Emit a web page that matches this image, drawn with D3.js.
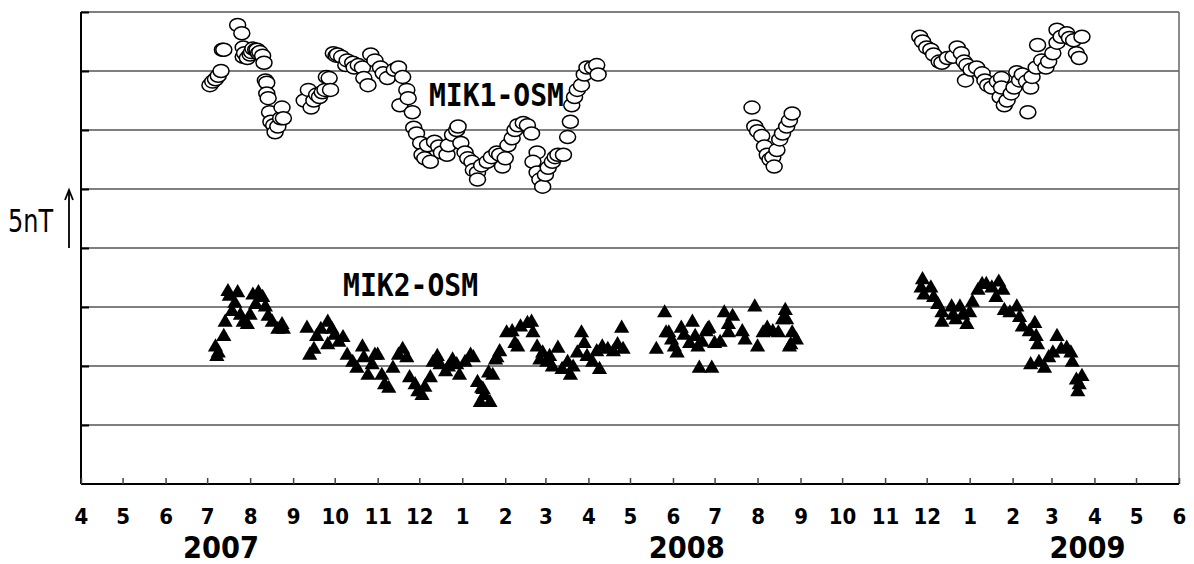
<!DOCTYPE html>
<html>
<head>
<meta charset="utf-8">
<script src="https://cdn.jsdelivr.net/npm/d3@7"></script>
<style>
  body { margin: 0; background: #fff; }
  svg { display: block; }
</style>
</head>
<body>
<div id="chart"></div>
<script>
const margin = {top: 12, right: 15, bottom: 80, left: 81},
    width = 1194 - margin.left - margin.right,
    height = 564 - margin.top - margin.bottom;

// MIK1-OSM differences (nT, arbitrary offset)
const mik1 = [
  ["2007-07-03",33.8],["2007-07-05",34.1],["2007-07-07",34.3],["2007-07-09",34.6],["2007-07-11",35.0],
  ["2007-07-12",36.8],["2007-07-13",36.8],["2007-07-23",38.9],["2007-07-26",38.2],["2007-07-27",37.0],
  ["2007-07-27",36.2],["2007-07-28",36.5],["2007-07-30",36.1],["2007-08-01",36.4],["2007-08-02",36.6],
  ["2007-08-03",36.9],["2007-08-05",36.8],["2007-08-06",36.8],["2007-08-07",36.5],["2007-08-08",36.6],
  ["2007-08-10",36.3],["2007-08-11",35.7],["2007-08-12",34.2],["2007-08-13",34.0],["2007-08-13",33.1],
  ["2007-08-14",32.7],["2007-08-15",31.5],["2007-08-16",30.7],["2007-08-18",30.4],["2007-08-19",29.8],
  ["2007-08-21",30.3],["2007-08-23",31.0],["2007-08-24",31.9],["2007-08-25",31.0],
  ["2007-09-09",32.5],["2007-09-12",33.4],["2007-09-14",31.9],["2007-09-16",32.5],["2007-09-18",33.0],
  ["2007-09-20",32.8],["2007-09-22",33.2],["2007-09-24",33.4],["2007-09-25",34.5],["2007-09-27",34.4],
  ["2007-09-28",33.4],["2007-09-30",36.5],["2007-10-02",36.3],["2007-10-03",36.4],["2007-10-06",36.2],
  ["2007-10-09",35.5],["2007-10-10",35.9],["2007-10-14",35.7],["2007-10-15",35.3],["2007-10-18",35.5],
  ["2007-10-21",35.3],["2007-10-22",34.4],["2007-10-25",33.8],["2007-10-27",36.4],["2007-10-30",35.9],
  ["2007-11-03",35.3],["2007-11-05",34.8],["2007-11-08",34.4],["2007-11-13",35.1],["2007-11-16",35.3],
  ["2007-11-17",32.1],["2007-11-19",34.5],["2007-11-22",33.4],["2007-11-23",32.7],["2007-11-26",31.5],
  ["2007-11-27",30.2],["2007-11-29",29.7],["2007-12-02",28.9],["2007-12-03",27.9],["2007-12-05",27.6],
  ["2007-12-07",28.7],["2007-12-09",27.3],["2007-12-12",29.0],["2007-12-15",28.6],["2007-12-17",28.1],
  ["2007-12-21",27.9],["2007-12-22",28.7],["2007-12-25",29.6],["2007-12-28",30.0],["2007-12-29",30.3],
  ["2007-12-31",28.9],["2008-01-03",28.1],["2008-01-05",27.6],["2008-01-08",27.3],["2008-01-09",26.6],
  ["2008-01-12",26.4],["2008-01-12",25.8],["2008-01-15",27.0],["2008-01-19",27.3],["2008-01-22",27.7],
  ["2008-01-26",28.1],["2008-01-28",27.9],["2008-01-30",26.9],["2008-02-01",27.6],["2008-02-03",28.7],
  ["2008-02-06",29.3],["2008-02-08",30.0],["2008-02-10",30.4],["2008-02-14",30.6],["2008-02-17",30.4],
  ["2008-02-20",29.7],["2008-02-24",28.1],["2008-02-21",27.3],["2008-02-24",26.4],["2008-02-26",25.8],
  ["2008-02-28",25.2],["2008-03-01",26.2],["2008-03-03",26.8],["2008-03-06",27.3],["2008-03-08",27.7],
  ["2008-03-10",27.9],["2008-03-14",27.9],["2008-03-17",29.4],["2008-03-19",30.7],["2008-03-20",32.1],
  ["2008-03-22",32.8],["2008-03-24",33.4],["2008-03-27",33.8],["2008-03-29",34.7],["2008-03-31",35.3],
  ["2008-04-04",35.3],["2008-04-07",35.5],["2008-04-08",34.7],
  ["2008-07-28",31.9],["2008-07-30",30.3],["2008-08-01",29.9],["2008-08-04",29.5],["2008-08-06",28.6],
  ["2008-08-08",27.9],["2008-08-10",27.5],["2008-08-12",27.7],["2008-08-13",26.9],["2008-08-15",28.3],
  ["2008-08-17",29.2],["2008-08-19",29.7],["2008-08-22",30.3],["2008-08-24",30.8],["2008-08-26",31.4],
  ["2008-11-26",37.9],["2008-11-28",37.5],["2008-12-01",37.0],["2008-12-04",36.8],["2008-12-06",36.4],
  ["2008-12-10",35.8],["2008-12-12",35.7],["2008-12-16",36.1],["2008-12-20",36.2],["2008-12-23",37.0],
  ["2008-12-26",36.5],["2008-12-28",35.8],["2008-12-29",34.2],["2008-12-30",35.5],["2009-01-02",35.1],
  ["2009-01-06",35.3],["2009-01-10",34.8],["2009-01-12",34.2],["2009-01-14",33.8],["2009-01-17",33.6],
  ["2009-01-21",34.1],["2009-01-23",32.8],["2009-01-24",34.4],["2009-01-24",33.6],["2009-01-26",32.1],
  ["2009-01-28",32.5],["2009-01-31",33.1],["2009-02-02",33.6],["2009-02-04",34.9],["2009-02-06",34.2],
  ["2009-02-08",34.7],["2009-02-11",34.1],["2009-02-12",31.5],["2009-02-14",33.6],["2009-02-15",34.5],
  ["2009-02-18",35.3],["2009-02-19",37.2],["2009-02-22",35.9],["2009-02-25",35.3],["2009-02-27",35.8],
  ["2009-03-02",36.5],["2009-03-05",38.5],["2009-03-05",37.4],["2009-03-08",37.9],["2009-03-12",38.2],
  ["2009-03-14",37.8],["2009-03-17",37.6],["2009-03-19",36.5],["2009-03-21",36.1],["2009-03-23",37.9]
];

// MIK2-OSM differences
const mik2 = [
  ["2007-07-07",11.6],["2007-07-08",10.8],["2007-07-09",11.1],["2007-07-13",12.5],["2007-07-14",13.7],
  ["2007-07-16",16.3],["2007-07-17",15.9],["2007-07-19",14.6],["2007-07-21",15.3],["2007-07-23",16.2],
  ["2007-07-25",14.3],["2007-07-27",13.7],["2007-07-30",13.5],["2007-08-01",14.3],["2007-08-03",16.0],
  ["2007-08-05",15.2],["2007-08-07",16.2],["2007-08-10",15.8],["2007-08-12",15.0],["2007-08-14",14.2],
  ["2007-08-17",13.7],["2007-08-21",13.1],["2007-08-24",13.5],["2007-08-25",13.1],
  ["2007-09-11",13.2],["2007-09-13",10.9],["2007-09-16",11.4],["2007-09-18",12.5],["2007-09-21",13.1],
  ["2007-09-26",13.7],["2007-09-26",11.8],["2007-09-29",13.1],["2007-10-01",12.6],["2007-10-04",12.0],
  ["2007-10-07",12.4],["2007-10-10",10.9],["2007-10-14",10.3],["2007-10-17",9.8],["2007-10-21",11.6],
  ["2007-10-22",10.7],["2007-10-25",9.2],["2007-10-28",10.1],["2007-10-30",10.9],["2007-11-01",10.9],
  ["2007-11-04",9.2],["2007-11-06",8.4],["2007-11-09",8.1],["2007-11-12",9.8],["2007-11-16",10.9],
  ["2007-11-19",11.4],["2007-11-22",10.7],["2007-11-24",9.0],["2007-11-28",8.4],["2007-11-30",7.8],
  ["2007-12-03",7.5],["2007-12-05",8.2],["2007-12-09",9.0],["2007-12-11",10.3],["2007-12-14",10.8],
  ["2007-12-16",10.1],["2007-12-20",9.5],["2007-12-22",9.9],["2007-12-25",10.5],["2007-12-28",10.1],
  ["2007-12-30",9.2],["2008-01-03",10.3],["2008-01-07",10.9],["2008-01-09",10.7],["2008-01-12",8.6],
  ["2008-01-14",6.9],["2008-01-15",8.1],["2008-01-16",8.0],["2008-01-17",7.5],["2008-01-20",9.4],
  ["2008-01-21",6.9],["2008-01-23",9.2],["2008-01-25",10.5],["2008-01-26",10.7],["2008-01-28",11.2],
  ["2008-02-02",12.8],["2008-02-06",12.9],["2008-02-08",11.9],["2008-02-10",11.6],["2008-02-12",13.3],
  ["2008-02-17",13.6],["2008-02-20",13.7],["2008-02-21",12.8],["2008-02-24",11.6],["2008-02-26",10.5],
  ["2008-02-28",11.1],["2008-03-02",10.3],["2008-03-04",10.8],["2008-03-06",9.9],["2008-03-10",11.5],
  ["2008-03-13",9.7],["2008-03-17",10.3],["2008-03-19",9.2],["2008-03-21",9.9],["2008-03-24",11.1],
  ["2008-03-27",12.8],["2008-03-29",11.9],["2008-03-31",10.8],["2008-04-04",10.3],["2008-04-07",11.2],
  ["2008-04-09",9.7],["2008-04-11",11.6],["2008-04-15",11.4],["2008-04-19",11.2],["2008-04-22",11.8],
  ["2008-04-25",13.2],["2008-04-26",11.4],
  ["2008-05-20",11.4],["2008-05-26",14.5],["2008-05-27",12.8],["2008-05-29",12.8],["2008-05-31",12.2],
  ["2008-06-02",11.6],["2008-06-04",11.1],["2008-06-07",13.2],["2008-06-09",12.6],["2008-06-13",11.9],
  ["2008-06-15",13.7],["2008-06-17",12.5],["2008-06-19",11.6],["2008-06-20",9.8],["2008-06-22",12.0],
  ["2008-06-25",12.9],["2008-06-26",13.1],["2008-06-27",13.2],["2008-06-29",9.8],["2008-07-01",11.9],
  ["2008-07-05",12.0],["2008-07-08",14.5],["2008-07-11",13.5],["2008-07-11",12.8],["2008-07-14",14.2],
  ["2008-07-21",12.9],["2008-07-23",12.2],["2008-07-30",15.0],["2008-08-01",11.6],["2008-08-05",12.8],
  ["2008-08-08",13.2],["2008-08-12",12.9],["2008-08-16",12.8],["2008-08-19",13.9],["2008-08-21",14.7],
  ["2008-08-22",13.9],["2008-08-24",11.6],["2008-08-25",11.8],["2008-08-26",12.8],["2008-08-29",12.2],
  ["2008-11-27",16.6],["2008-11-28",17.3],["2008-11-29",16.0],["2008-12-04",16.6],["2008-12-06",15.8],
  ["2008-12-09",15.2],["2008-12-12",14.5],["2008-12-12",13.7],["2008-12-19",15.0],["2008-12-20",14.3],
  ["2008-12-22",13.9],["2008-12-25",15.0],["2008-12-27",14.3],["2008-12-30",13.5],["2009-01-01",14.5],
  ["2009-01-03",15.4],["2009-01-07",16.4],["2009-01-10",16.9],["2009-01-13",16.9],["2009-01-17",16.6],
  ["2009-01-20",15.8],["2009-01-22",17.1],["2009-01-25",16.4],["2009-01-26",14.7],["2009-01-30",14.5],
  ["2009-02-04",15.0],["2009-02-06",14.1],["2009-02-08",13.3],["2009-02-13",12.9],["2009-02-14",10.1],
  ["2009-02-17",13.6],["2009-02-18",12.5],["2009-02-19",11.8],["2009-02-20",10.3],["2009-02-24",9.8],
  ["2009-02-27",10.7],["2009-03-02",11.1],["2009-03-05",12.5],["2009-03-08",11.4],["2009-03-12",11.5],
  ["2009-03-15",11.1],["2009-03-16",10.3],["2009-03-19",8.8],["2009-03-20",7.8],["2009-03-21",8.4],
  ["2009-03-23",9.1]
];

const yTicks = [5, 10, 15, 20, 25, 30, 35, 40];
const years = ["2007", "2008", "2009"];
const yearDates = ["2007-07-11", "2008-06-11", "2009-03-27"];
const seriesLabels = ["MIK1-OSM", "MIK2-OSM"];
const seriesLabelAt = [["2007-12-08", 32], ["2007-10-07", 15.9]];

const parse = d3.timeParse("%Y-%m-%d");
const narrow = "'Liberation Sans Narrow', 'DejaVu Sans Condensed', sans-serif";

const svg = d3.select("#chart")
    .append("svg")
    .attr("width", width + margin.left + margin.right)
    .attr("height", height + margin.top + margin.bottom)
    .append("g")
    .attr("transform", `translate(${margin.left},${margin.top})`);

const x = d3.scaleTime()
    .domain([parse("2007-04-01"), parse("2009-06-01")])
    .range([0, width]);
const y = d3.scaleLinear()
    .domain([0, 40])
    .range([height, 0]);

//grid lines
svg.selectAll(".grid")
    .data(yTicks)
    .enter()
    .append("line")
    .attr("x1", 0)
    .attr("x2", width)
    .attr("y1", d => y(d))
    .attr("y2", d => y(d))
    .attr("stroke", "#555")
    .attr("stroke-width", 1.3);

//right border
svg.append("line")
    .attr("x1", width).attr("x2", width)
    .attr("y1", 0).attr("y2", height)
    .attr("stroke", "#666")
    .attr("stroke-width", 1.5);

//left axis, inward ticks
const yAxis = svg.append("g")
    .call(d3.axisLeft(y).tickValues(yTicks).tickSize(-8).tickFormat(""));
yAxis.select(".domain").attr("stroke-width", 2).attr("d", `M0,0V${height}`);
yAxis.selectAll(".tick line").attr("stroke-width", 2);

//bottom axis, month numbers
const xAxis = svg.append("g")
    .attr("transform", `translate(0,${height})`)
    .call(d3.axisBottom(x).ticks(d3.timeMonth.every(1)).tickSize(-6)
        .tickFormat(d => d.getMonth() + 1));
xAxis.select(".domain").attr("stroke-width", 2).attr("d", `M0,0H${width}`);
xAxis.selectAll(".tick line").attr("stroke", "#444").attr("stroke-width", 1.5);
xAxis.selectAll(".tick text")
    .attr("y", 40)
    .attr("dy", 0)
    .attr("font-family", narrow)
    .attr("font-weight", "bold")
    .attr("font-size", "22px")
    .attr("fill", "#000");

//year labels
svg.selectAll(".year")
    .data(years)
    .enter()
    .append("text")
    .attr("x", (d, i) => x(parse(yearDates[i])))
    .attr("y", height + 74)
    .attr("text-anchor", "middle")
    .attr("font-family", narrow)
    .attr("font-weight", "bold")
    .attr("font-size", "30px")
    .attr("textLength", 76)
    .attr("lengthAdjust", "spacingAndGlyphs")
    .text(d => d);

//MIK2 triangles
const tri = d3.symbol().type(d3.symbolTriangle).size(100);
svg.selectAll(".tri")
    .data(mik2)
    .enter()
    .append("path")
    .attr("d", tri)
    .attr("transform", d => `translate(${x(parse(d[0]))},${y(d[1])})`)
    .attr("fill", "#000");

//MIK1 hollow circles
svg.selectAll(".circ")
    .data(mik1)
    .enter()
    .append("ellipse")
    .attr("cx", d => x(parse(d[0])))
    .attr("cy", d => y(d[1]))
    .attr("rx", 8)
    .attr("ry", 6.5)
    .attr("fill", "#fff")
    .attr("stroke", "#000")
    .attr("stroke-width", 1.5);

//series labels
svg.selectAll(".slabel")
    .data(seriesLabels)
    .enter()
    .append("text")
    .attr("x", (d, i) => x(parse(seriesLabelAt[i][0])))
    .attr("y", (d, i) => y(seriesLabelAt[i][1]))
    .attr("font-family", "'DejaVu Sans Mono', monospace")
    .attr("font-weight", "bold")
    .attr("font-size", "32px")
    .attr("textLength", 135)
    .attr("lengthAdjust", "spacingAndGlyphs")
    .text(d => d);

//scale marker: 5nT arrow
svg.append("text")
    .attr("x", -73)
    .attr("y", y(20) - 16)
    .attr("font-family", narrow)
    .attr("font-size", "32px")
    .attr("textLength", 45)
    .attr("lengthAdjust", "spacingAndGlyphs")
    .text("5nT");
svg.append("line")
    .attr("x1", -12).attr("x2", -12)
    .attr("y1", y(20)).attr("y2", y(25) + 2)
    .attr("stroke", "#000")
    .attr("stroke-width", 1.8);
svg.append("path")
    .attr("d", `M-16,${y(25) + 11}L-12,${y(25) + 1}L-8,${y(25) + 11}`)
    .attr("fill", "none")
    .attr("stroke", "#000")
    .attr("stroke-width", 1.8);
</script>
</body>
</html>
